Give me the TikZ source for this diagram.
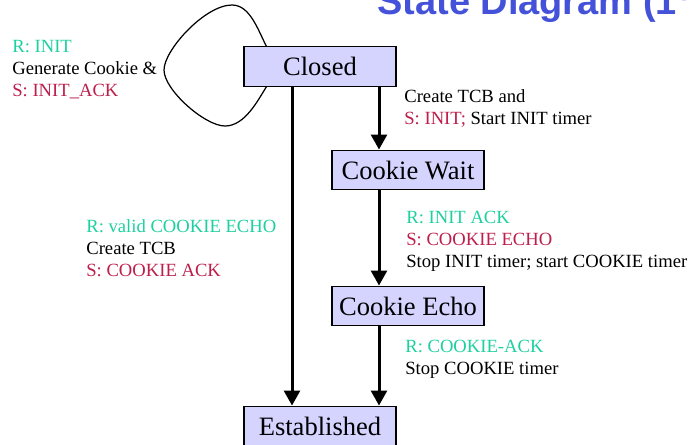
\documentclass[tikz,border=0pt]{standalone}
\usepackage{fontspec}
\setmainfont{Liberation Serif}
\newfontfamily\headfont{Liberation Sans}
\usetikzlibrary{arrows.meta}
\definecolor{rcvcol}{RGB}{30,208,160}
\definecolor{sndcol}{RGB}{190,30,75}
\definecolor{statefill}{RGB}{212,212,255}
\definecolor{headcol}{RGB}{68,82,218}

\begin{document}
\begin{tikzpicture}[
	state/.style={draw=black,line width=0.8pt,fill=statefill,minimum width=3.04cm,minimum height=0.79cm,inner sep=0pt,font=\fontsize{15.1}{18}\selectfont},
	lbl/.style={anchor=north west,inner sep=0pt,align=left,font=\fontsize{10.6}{12.5}\selectfont},
	trans/.style={line width=1.7pt,-{Triangle[length=8.5pt,width=9pt]}},
	]
	\useasboundingbox (0,0) rectangle (13.78,-8.88);
	\clip (0,0) rectangle (13.78,-8.88);
	%
	\node[anchor=base west,inner sep=0pt,text=headcol,font=\headfont\bfseries\fontsize{21.6}{26}\selectfont] (title) at (7.54,-0.28) {State Diagram (1\textsuperscript{st}};
	%
	\node[state] (closed) at (6.40,-1.33) {Closed};
	\node[state] (wait) at (8.16,-3.40) {Cookie Wait};
	\node[state] (echo) at (8.16,-6.12) {Cookie Echo};
	\node[state] (estab) at (6.40,-8.52) {Established};
	%
	\coordinate (rlane) at (7.58,0);
	\coordinate (llane) at (5.84,0);
	%
	\draw[trans] (closed.south -| rlane) -- (wait.north -| rlane);
	\draw[trans] (wait.south -| rlane) -- (echo.north -| rlane);
	\draw[trans] (echo.south -| rlane) -- (estab.north -| rlane);
	\draw[trans] (closed.south -| llane) -- (estab.north -| llane);
	%
	\draw[line width=0.7pt] ([xshift=0.46cm]closed.north west)
		.. controls (5.16,-0.60) and (5.00,-0.10) .. (4.64,-0.10)
		.. controls (4.10,-0.10) and (3.28,-1.00) .. (3.28,-1.40)
		.. controls (3.28,-1.80) and (4.10,-2.52) .. (4.50,-2.52)
		.. controls (4.90,-2.52) and (5.16,-2.00) .. ([xshift=0.46cm]closed.south west);
	%
	\node[lbl] (lblloop) at (0.24,-0.80) {\textcolor{rcvcol}{R: INIT}\\Generate Cookie \&\\\textcolor{sndcol}{S: INIT\_ACK}};
	\node[lbl] (lblopen) at (8.08,-1.79) {Create TCB and\\\textcolor{sndcol}{S: INIT;} Start INIT timer};
	\node[lbl] (lblvalid) at (1.72,-4.39) {\textcolor{rcvcol}{R: valid COOKIE ECHO}\\Create TCB\\\textcolor{sndcol}{S: COOKIE ACK}};
	\node[lbl] (lblack) at (8.12,-4.21) {\textcolor{rcvcol}{R: INIT ACK}\\\textcolor{sndcol}{S: COOKIE ECHO}\\Stop INIT timer; start COOKIE timer};
	\node[lbl] (lblcack) at (8.10,-6.79) {\textcolor{rcvcol}{R: COOKIE-ACK}\\Stop COOKIE timer};
	%
\end{tikzpicture}
\end{document}
